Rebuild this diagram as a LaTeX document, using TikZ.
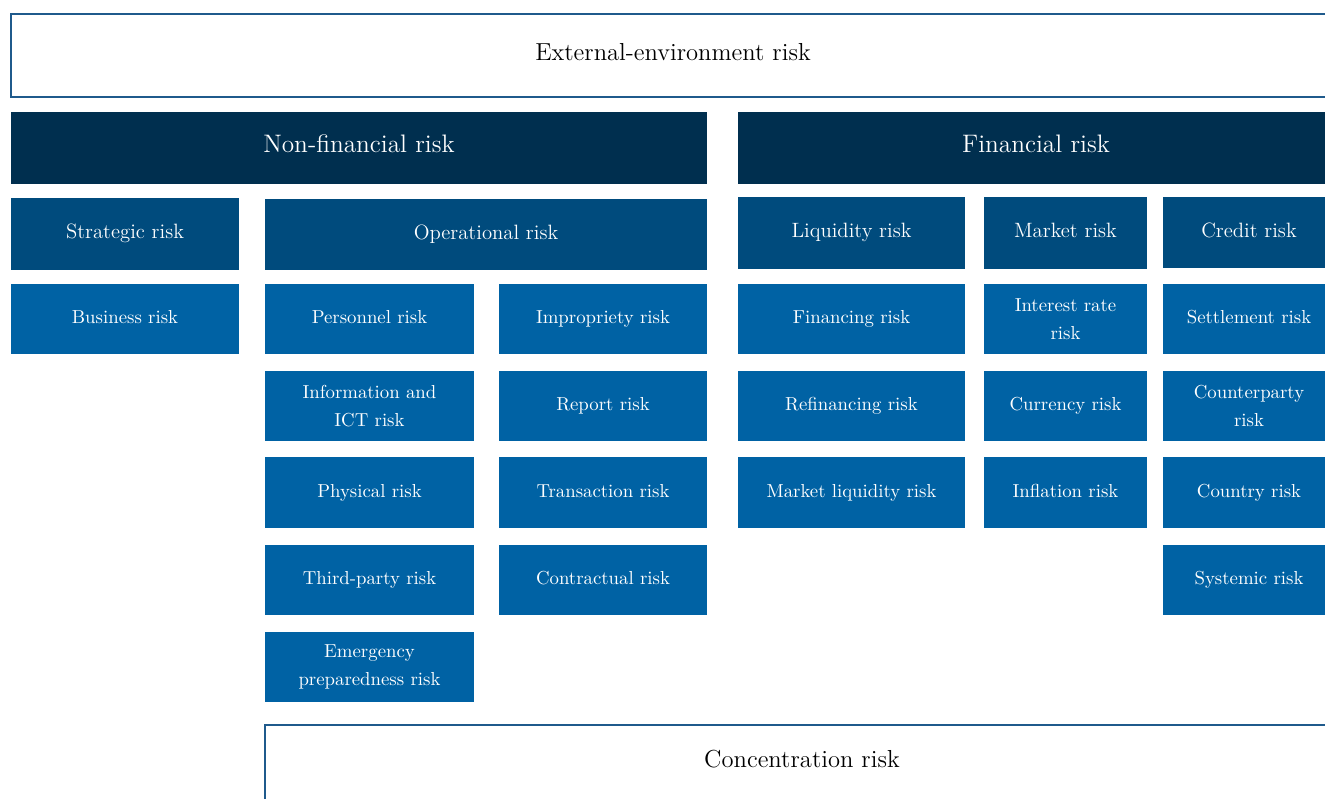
\documentclass[tikz,border=0pt]{standalone}
\usepackage{tikz}

\definecolor{navy}{RGB}{0,47,79}
\definecolor{midblue}{RGB}{0,75,125}
\definecolor{lightblue}{RGB}{0,98,164}
\definecolor{edgeblue}{RGB}{31,90,140}

\begin{document}
\begin{tikzpicture}[x=0.02cm,y=-0.02cm,
  outerbox/.style={draw=edgeblue,line width=1.2pt,fill=white,inner sep=0pt,text height=1.6ex,text depth=0.4ex,font=\fontsize{14}{16}\selectfont},
  topbox/.style={fill=navy,text=white,inner sep=0pt,minimum height=1.44cm,text height=1.6ex,text depth=0.4ex,font=\fontsize{14.4}{16}\selectfont},
  groupbox/.style={fill=midblue,text=white,inner sep=0pt,minimum height=1.44cm,text height=1.6ex,text depth=0.4ex,font=\fontsize{11.8}{14}\selectfont},
  riskbox/.style={fill=lightblue,text=white,inner sep=0pt,minimum height=1.41cm,align=center,text height=1.6ex,text depth=0.4ex,font=\fontsize{10.7}{16}\selectfont},
  twoline/.style={text height={},text depth={}}]
\useasboundingbox (0,0) rectangle (1325,798);

\node[outerbox,minimum width=26.48cm,minimum height=1.66cm] (external) at (673,55.5) {External-environment risk};

\node[topbox,minimum width=13.92cm] (nonfin) at (359,148) {Non-financial risk};
\node[topbox,minimum width=11.92cm] (fin) at (1036,148) {Financial risk};

\node[groupbox,minimum width=4.56cm] (strategic) at (125,234) {Strategic risk};
\node[groupbox,minimum width=8.84cm] (operational) at (486,234.5) {Operational risk};
\node[groupbox,minimum width=4.54cm] (liquidity) at (851.5,233) {Liquidity risk};
\node[groupbox,minimum width=3.26cm] (market) at (1065.5,233) {Market risk};
\node[groupbox,minimum width=3.44cm] (credit) at (1249,232.5) {Credit risk};

% strategic
\node[riskbox,minimum width=4.56cm] (business) at (125,319) {Business risk};

% operational
\node[riskbox,minimum width=4.18cm] (personnel) at (369.5,319) {Personnel risk};
\node[riskbox,twoline,minimum width=4.18cm] (ict) at (369.5,406) {Information and\\ICT risk};
\node[riskbox,minimum width=4.18cm] (physical) at (369.5,492.5) {Physical risk};
\node[riskbox,minimum width=4.18cm] (thirdparty) at (369.5,580) {Third-party risk};
\node[riskbox,twoline,minimum width=4.18cm] (emergency) at (369.5,667) {Emergency\\preparedness risk};
\node[riskbox,minimum width=4.16cm] (impropriety) at (603,319) {Impropriety risk};
\node[riskbox,minimum width=4.16cm] (report) at (603,406) {Report risk};
\node[riskbox,minimum width=4.16cm] (transaction) at (603,492.5) {Transaction risk};
\node[riskbox,minimum width=4.16cm] (contractual) at (603,580) {Contractual risk};

% liquidity
\node[riskbox,minimum width=4.54cm] (financing) at (851.5,319) {Financing risk};
\node[riskbox,minimum width=4.54cm] (refinancing) at (851.5,406) {Refinancing risk};
\node[riskbox,minimum width=4.54cm] (mktliquidity) at (851.5,492.5) {Market liquidity risk};

% market
\node[riskbox,twoline,minimum width=3.26cm] (interest) at (1065.5,319) {Interest rate\\risk};
\node[riskbox,minimum width=3.26cm] (currency) at (1065.5,406) {Currency risk};
\node[riskbox,minimum width=3.26cm] (inflation) at (1065.5,492.5) {Inflation risk};

% credit
\node[riskbox,minimum width=3.44cm] (settlement) at (1249,319) {Settlement risk};
\node[riskbox,twoline,minimum width=3.44cm] (counterparty) at (1249,406) {Counterparty\\risk};
\node[riskbox,minimum width=3.44cm] (country) at (1249,492.5) {Country risk};
\node[riskbox,minimum width=3.44cm] (systemic) at (1249,580) {Systemic risk};

\node[outerbox,minimum width=21.48cm,minimum height=1.52cm] (concentration) at (802,763) {Concentration risk};
\end{tikzpicture}
\end{document}
